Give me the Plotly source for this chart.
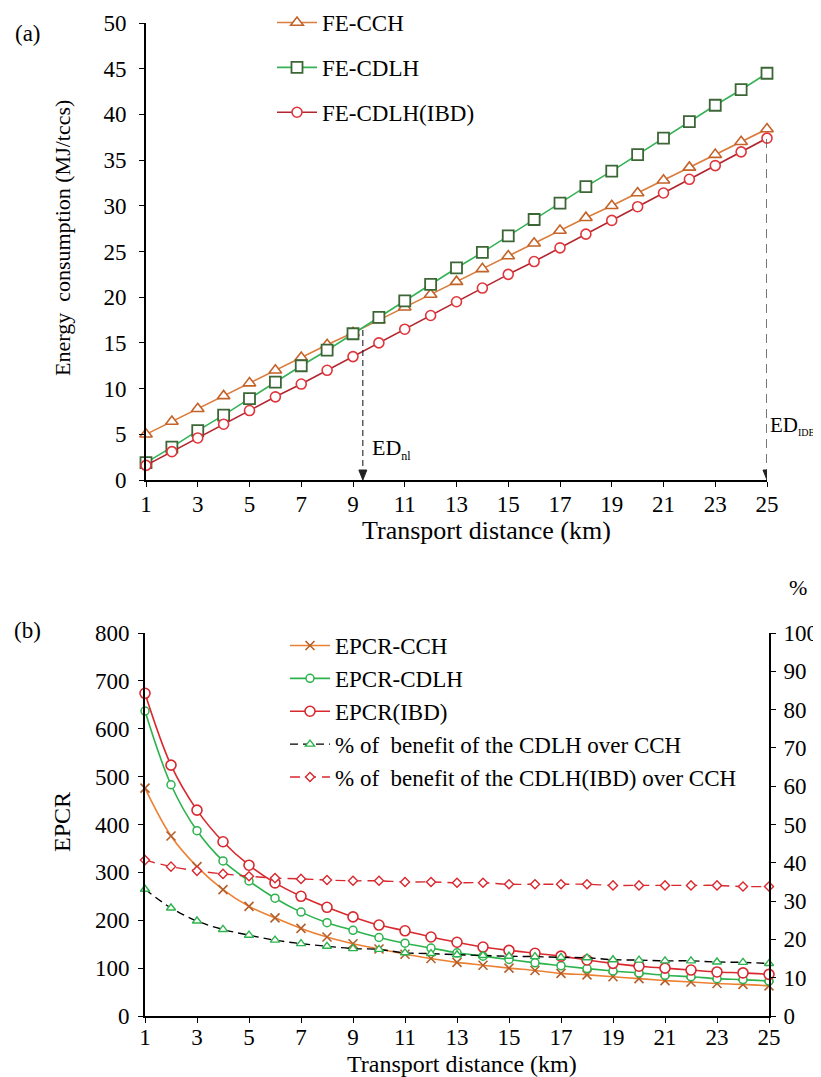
import plotly.graph_objects as go

# the page body adds an 8px margin, so the figure is drawn 8px in from the corner
OFF = 8
W, H = 821 - OFF, 1077 - OFF
FONT = "Liberation Serif"

# ---------------- data ----------------
distance = list(range(1, 26))
tick_vals = [1, 3, 5, 7, 9, 11, 13, 15, 17, 19, 21, 23, 25]

fe_cch = [5.0, 6.4, 7.8, 9.2, 10.6, 12.0, 13.4, 14.8, 16.1, 17.5, 18.9, 20.3, 21.7,
          23.1, 24.5, 25.9, 27.3, 28.7, 30.0, 31.4, 32.8, 34.2, 35.6, 37.0, 38.4]
fe_cdlh = [1.9, 3.6, 5.4, 7.1, 8.9, 10.7, 12.5, 14.2, 16.0, 17.8, 19.6, 21.4, 23.2,
           24.9, 26.7, 28.5, 30.3, 32.1, 33.8, 35.6, 37.4, 39.2, 41.0, 42.7, 44.5]
fe_cdlh_ibd = [1.6, 3.1, 4.6, 6.1, 7.6, 9.1, 10.5, 12.0, 13.5, 15.0, 16.5, 18.0, 19.5,
               21.0, 22.5, 23.9, 25.4, 26.9, 28.4, 29.9, 31.4, 32.9, 34.4, 35.9, 37.4]

epcr_cch = [476, 376, 312, 264, 229, 205, 183, 165, 151, 140, 129, 120, 112,
            106, 100, 95, 89, 86, 82, 78, 74, 71, 68, 66, 63]
epcr_cdlh = [637, 483, 387, 324, 282, 246, 217, 195, 179, 164, 152, 142, 132,
             125, 118, 111, 105, 99, 94, 90, 85, 82, 78, 76, 73]
epcr_ibd = [674, 524, 430, 364, 315, 278, 250, 227, 207, 190, 178, 165, 154,
            144, 137, 131, 125, 117, 110, 104, 100, 96, 92, 90, 87]
pct_cdlh = [33.1, 28.2, 24.8, 22.6, 21.1, 19.8, 18.9, 18.2, 17.6, 17.4, 16.5, 16.3, 16.0,
            15.8, 15.6, 15.5, 15.3, 15.2, 14.7, 14.6, 14.4, 14.4, 14.1, 14.0, 13.7]
pct_ibd = [40.7, 39.0, 37.9, 37.1, 36.5, 36.0, 35.8, 35.5, 35.3, 35.3, 35.0, 35.0, 34.8,
           34.8, 34.4, 34.4, 34.4, 34.4, 34.1, 34.1, 34.1, 34.1, 34.1, 33.8, 33.8]

ed_nl_x, ed_nl_top = 9.38, 16.4
ed_idb_x, ed_idb_top = 25.0, 37.3


def px_x(p):
    return (p - OFF) / W


def px_y(p):
    return 1 - (p - OFF) / H


fig = go.Figure()

# ---------------- panel (a) ----------------
fig.add_trace(go.Scatter(
    x=distance, y=fe_cch, name="FE-CCH", mode="lines+markers",
    line=dict(color="#DA7D3E", width=1.6),
    marker=dict(symbol="triangle-up", size=11, color="white",
                line=dict(color="#C46228", width=1.6)),
    xaxis="x", yaxis="y", legend="legend", legendgroup="a1", cliponaxis=False))
fig.add_trace(go.Scatter(
    x=distance, y=fe_cdlh, name="FE-CDLH", mode="lines+markers",
    line=dict(color="#35B257", width=1.6),
    marker=dict(symbol="square", size=11, color="white",
                line=dict(color="#3D6636", width=1.8)),
    xaxis="x", yaxis="y", legend="legend", legendgroup="a2", cliponaxis=False))
fig.add_trace(go.Scatter(
    x=distance, y=fe_cdlh_ibd, name="FE-CDLH(IBD)", mode="lines+markers",
    line=dict(color="#B3262F", width=1.6),
    marker=dict(symbol="circle", size=10, color="white",
                line=dict(color="#E0353B", width=1.6)),
    xaxis="x", yaxis="y", legend="legend", legendgroup="a3", cliponaxis=False))

# ---------------- panel (b) ----------------
fig.add_trace(go.Scatter(
    x=distance, y=epcr_cch, name="EPCR-CCH", mode="lines+markers",
    line=dict(color="#EC8134", width=1.6, shape="spline"),
    marker=dict(symbol="x-thin", size=9, color="#B5602C",
                line=dict(color="#B5602C", width=1.6)),
    xaxis="x2", yaxis="y2", legend="legend2", legendgroup="b1", cliponaxis=False))
fig.add_trace(go.Scatter(
    x=distance, y=epcr_cdlh, name="EPCR-CDLH", mode="lines+markers",
    line=dict(color="#2DB34E", width=1.6, shape="spline"),
    marker=dict(symbol="circle", size=8, color="white",
                line=dict(color="#2DB34E", width=1.5)),
    xaxis="x2", yaxis="y2", legend="legend2", legendgroup="b2", cliponaxis=False))
fig.add_trace(go.Scatter(
    x=distance, y=epcr_ibd, name="EPCR(IBD)", mode="lines+markers",
    line=dict(color="#D8292F", width=1.6, shape="spline"),
    marker=dict(symbol="circle", size=10, color="white",
                line=dict(color="#D8292F", width=1.6)),
    xaxis="x2", yaxis="y2", legend="legend2", legendgroup="b3", cliponaxis=False))
fig.add_trace(go.Scatter(
    x=distance, y=pct_cdlh, name="% of  benefit of the CDLH over CCH", mode="lines+markers",
    line=dict(color="black", width=1.4, dash="8px,5px", shape="spline"),
    marker=dict(symbol="triangle-up", size=8, color="white",
                line=dict(color="#2DB34E", width=1.4)),
    xaxis="x2", yaxis="y3", legend="legend2", legendgroup="b4", cliponaxis=False))
fig.add_trace(go.Scatter(
    x=distance, y=pct_ibd, name="% of  benefit of the CDLH(IBD) over CCH", mode="lines+markers",
    line=dict(color="#D8292F", width=1.4, dash="10px,6px", shape="spline"),
    marker=dict(symbol="diamond", size=7, color="white",
                line=dict(color="#D8292F", width=1.4)),
    xaxis="x2", yaxis="y3", legend="legend2", legendgroup="b5", cliponaxis=False))

# ---------------- ED markers ----------------
fig.add_shape(type="line", xref="x", yref="y", x0=ed_nl_x, x1=ed_nl_x, y0=ed_nl_top, y1=0.9,
              line=dict(color="#222", width=1.1, dash="6px,4px"))
fig.add_shape(type="line", xref="x", yref="y", x0=ed_idb_x, x1=ed_idb_x, y0=ed_idb_top, y1=0.9,
              line=dict(color="#555", width=1.6, dash="9px,6px"))
for xx in (ed_nl_x, ed_idb_x):
    fig.add_shape(type="path", xref="x", yref="y", xsizemode="pixel", ysizemode="pixel",
                  xanchor=xx, yanchor=0, path="M -4,10 L 4,10 L 0,0 Z",
                  fillcolor="#222", line=dict(color="#222", width=1))


def paper_text(txt, x, y, size=23, angle=0, xanchor="center"):
    fig.add_annotation(x=px_x(x), y=px_y(y), xref="paper", yref="paper", text=txt,
                       showarrow=False, textangle=angle, xanchor=xanchor, yanchor="middle",
                       font=dict(family=FONT, size=size, color="black"))


paper_text("ED<sub><span style='font-size:12px'>nl</span></sub>", 370, 449, size=22, xanchor="left")
paper_text("ED<sub><span style='font-size:10px'>IDB</span></sub>", 768, 425, size=21, xanchor="left")
paper_text("(a)", 13, 33, xanchor="left")
paper_text("(b)", 12, 630, xanchor="left")
paper_text("Energy  consumption (MJ/tccs)", 62, 238, size=22, angle=-90)
paper_text("Transport distance (km)", 486, 530, size=26)
paper_text("EPCR", 62, 822, size=24, angle=-90)
paper_text("Transport distance (km)", 462, 1064, size=24)
paper_text("%", 798, 587, size=22)

# ---------------- axes ----------------
tickfont = dict(family=FONT, size=23, color="black")
common_x = dict(range=[1, 25], tickvals=tick_vals, ticks="outside", ticklen=5, tickwidth=1.3,
                tickcolor="black", showline=True, linecolor="black", showgrid=False,
                zeroline=False, tickfont=tickfont, automargin=False)
common_y = dict(ticks="outside", ticklen=5, tickwidth=1.3, tickcolor="black", showline=True,
                linecolor="black", showgrid=False, zeroline=False, tickfont=tickfont,
                automargin=False)

fig.update_layout(
    width=W, height=H,
    margin=dict(l=0, r=0, t=0, b=0, autoexpand=False),
    paper_bgcolor="white", plot_bgcolor="white",
    font=dict(family=FONT, color="black"),
    xaxis=dict(common_x, domain=[px_x(146), px_x(767)], anchor="y", linewidth=1.6,
               ticklabelstandoff=-2),
    yaxis=dict(common_y, domain=[px_y(480), px_y(23)], anchor="x", range=[0, 50], dtick=5,
               linewidth=1.6, ticklabelstandoff=8),
    xaxis2=dict(common_x, domain=[px_x(145), px_x(769)], anchor="y2", linewidth=2.4,
                ticklabelstandoff=-6),
    yaxis2=dict(common_y, domain=[px_y(1016), px_y(633)], anchor="x2", range=[0, 800], dtick=100,
                linewidth=1.6, ticklabelstandoff=4),
    yaxis3=dict(common_y, overlaying="y2", side="right", anchor="x2", range=[0, 100], dtick=10,
                linewidth=1.6, ticklabelstandoff=3),
    legend=dict(x=px_x(272), y=px_y(1), xanchor="left", yanchor="top", bgcolor="rgba(0,0,0,0)",
                font=dict(family=FONT, size=23, color="black"), tracegroupgap=12,
                traceorder="grouped", itemwidth=40),
    legend2=dict(x=px_x(285), y=px_y(624), xanchor="left", yanchor="top", bgcolor="rgba(0,0,0,0)",
                 font=dict(family=FONT, size=23, color="black"), tracegroupgap=0,
                 traceorder="grouped", itemwidth=40),
)

fig.write_html("out.html")
